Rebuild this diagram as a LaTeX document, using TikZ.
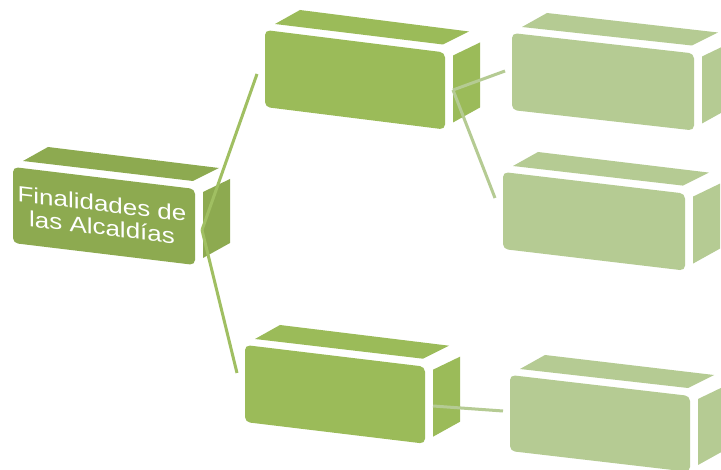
\documentclass[tikz,border=0pt]{standalone}
\usepackage{fontspec}
\setmainfont{Liberation Sans}
\definecolor{rootgreen}{HTML}{8DAA50}
\definecolor{midgreen}{HTML}{9BBB59}
\definecolor{lightgreen}{HTML}{B5CB93}
\definecolor{linkdark}{HTML}{A0BF62}
\definecolor{linklight}{HTML}{B8CE97}
\tikzset{
  darklink/.style={draw=linkdark, line width=3pt},
  lightlink/.style={draw=lightgreen, line width=3pt},
  boxtext/.style={text=white, align=center, inner sep=0pt, transform shape,
    font=\fontsize{22}{23.5}\selectfont}
}
% #1 name, #2 x0, #3 y0, #4 width, #5 height, #6 rise, #7 colour
\newcommand\cubebox[7]{%
  \fill[#7, rounded corners=5pt] ({#2},{#3}) -- ({#2+#4},{#3+#6}) -- ({#2+#4},{#3+#6+#5}) -- ({#2},{#3+#5}) -- cycle;
  \fill[#7] ({#2+10},{#3-6}) -- ({#2+35},{#3-20}) -- ({#2+#4+24},{#3+#6-21}) -- ({#2+#4-2},{#3+#6-8}) -- cycle;
  \fill[#7] ({#2+#4+8},{#3+#6+3}) -- ({#2+#4+35},{#3+#6-10}) -- ({#2+#4+35},{#3+#6+#5-22}) -- ({#2+#4+8},{#3+#6+#5-7}) -- cycle;
  \coordinate (#1) at ({#2+#4/2},{#3+#6/2+#5/2});
}
\begin{document}
\begin{tikzpicture}[x=1pt, y=-1pt]
  \fill[white] (0,0) rectangle (721,470);
  \clip (0,0) rectangle (721,470);
  % boxes
  \cubebox{root}{13}{167}{182}{76}{22}{rootgreen}
  \cubebox{upper}{265}{30}{180}{77}{22.5}{midgreen}
  \cubebox{lower}{245}{345}{180}{77}{21.7}{midgreen}
  \cubebox{leafA}{512}{33}{182}{77}{20.5}{lightgreen}
  \cubebox{leafB}{503}{172}{182}{77}{21.6}{lightgreen}
  \cubebox{leafC}{510}{375}{180}{76}{21}{lightgreen}
  % text
  \begin{scope}[shift={(102,215.5)}, yslant=-0.118, xscale=1.18]
    \node[boxtext] (roottext) at (0,0) {Finalidades de\\las Alcaldías};
  \end{scope}
  % connector ends
  \coordinate (root-out) at (202,230);
  \coordinate (upper-in) at (257,74);
  \coordinate (lower-in) at (237,373);
  \coordinate (upper-out) at (453,90);
  \coordinate (leafA-in) at (505,71);
  \coordinate (leafB-in) at (495,198);
  \coordinate (lower-out) at (433,406);
  \coordinate (leafC-in) at (503,411);
  % connectors
  \draw[darklink] (root-out) -- (upper-in);
  \draw[darklink] (root-out) -- (lower-in);
  \draw[lightlink] (upper-out) -- (leafA-in);
  \draw[lightlink] (upper-out) -- (leafB-in);
  \draw[lightlink] (lower-out) -- (leafC-in);
\end{tikzpicture}
\end{document}
